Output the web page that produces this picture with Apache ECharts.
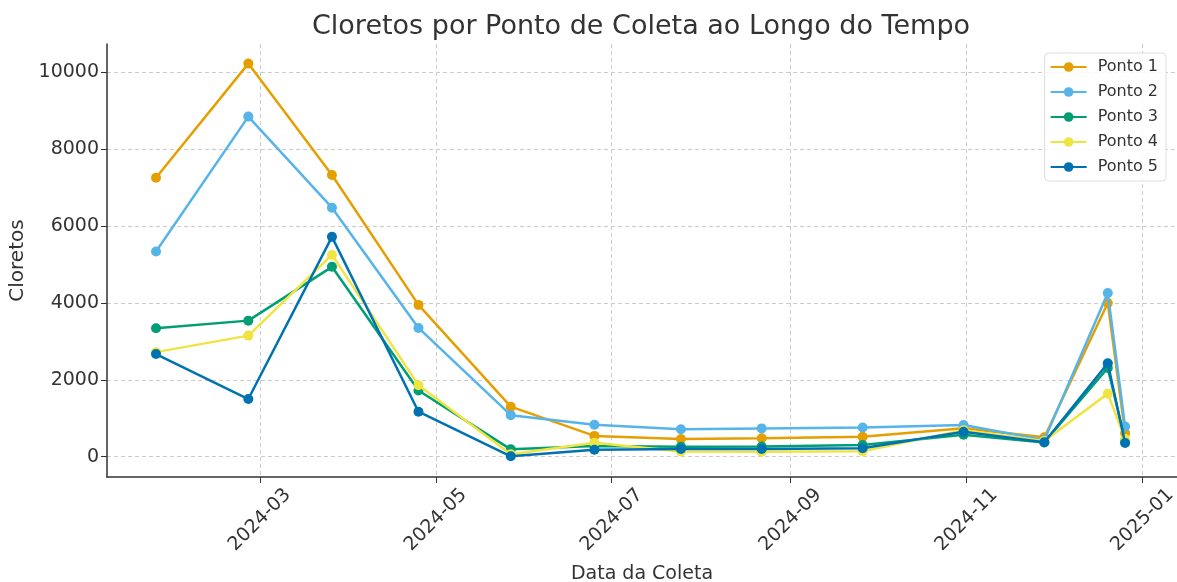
<!DOCTYPE html>
<html>
<head>
<meta charset="utf-8">
<script src="https://cdn.jsdelivr.net/npm/echarts@6/dist/echarts.min.js"></script>
<style>
  html, body { margin: 0; padding: 0; background: #fff; }
  #chart { width: 1177px; height: 582px; }
</style>
</head>
<body>
<div id="chart"></div>
<script>
// collection dates
const datas = [
  "2024-01-25", "2024-02-26", "2024-03-26", "2024-04-25", "2024-05-27",
  "2024-06-25", "2024-07-25", "2024-08-22", "2024-09-26", "2024-10-31",
  "2024-11-28", "2024-12-20", "2024-12-26"
];

const ponto1 = [7260, 10230, 7330, 3950, 1300, 540, 460, 480, 515, 740, 505, 4000, 610];
const ponto2 = [5340, 8850, 6480, 3350, 1080, 830, 715, 735, 757, 825, 435, 4260, 785];
const ponto3 = [3340, 3540, 4940, 1720, 190, 280, 260, 265, 300, 570, 370, 2310, 420];
const ponto4 = [2720, 3150, 5250, 1860, 60, 360, 135, 130, 140, 690, 410, 1640, 460];
const ponto5 = [2670, 1500, 5720, 1170, 10, 180, 200, 200, 220, 650, 375, 2430, 355];

const xTicks = ["2024-03-01", "2024-05-01", "2024-07-01", "2024-09-01", "2024-11-01", "2025-01-01"];
const yTicks = [0, 2000, 4000, 6000, 8000, 10000];

const nomes = ["Ponto 1", "Ponto 2", "Ponto 3", "Ponto 4", "Ponto 5"];
const valores = [ponto1, ponto2, ponto3, ponto4, ponto5];
const cores = ["#E69F00", "#56B4E9", "#009E73", "#F0E442", "#0072B2"];

const ts = d => Date.UTC(+d.slice(0, 4), +d.slice(5, 7) - 1, +d.slice(8, 10));
const fonte = "DejaVu Sans";

let myChart = echarts.init(document.getElementById("chart"));
let option = {
  backgroundColor: "#fff",
  animation: false,
  color: cores,
  textStyle: { fontFamily: fonte },
  title: {
    text: "Cloretos por Ponto de Coleta ao Longo do Tempo",
    left: 307,
    top: 8,
    textStyle: { fontFamily: fonte, fontSize: 27, fontWeight: "normal", color: "#333" }
  },
  legend: {
    orient: "vertical",
    right: 11,
    top: 53,
    itemWidth: 36,
    itemHeight: 12,
    itemGap: 9,
    padding: [6, 8, 6, 5],
    borderColor: "#ddd",
    borderWidth: 1,
    borderRadius: 4,
    backgroundColor: "rgba(255,255,255,0.85)",
    textStyle: { fontFamily: fonte, fontSize: 16, color: "#333", padding: [0, 0, 0, 6] },
    data: nomes
  },
  grid: { left: 107, right: 0, top: 44, bottom: 105, outerBoundsMode: "none", containLabel: false },
  xAxis: {
    type: "value",
    min: ts("2024-01-08"),
    max: ts("2025-01-13"),
    name: "Data da Coleta",
    nameLocation: "middle",
    nameGap: 88,
    nameTextStyle: { fontFamily: fonte, fontSize: 19, color: "#333" },
    axisLine: { onZero: false, lineStyle: { color: "#333", width: 1.5 } },
    axisTick: { show: true, length: 6, lineStyle: { color: "#333" }, customValues: xTicks.map(ts) },
    axisLabel: {
      customValues: xTicks.map(ts),
      rotate: 45,
      align: "center",
      verticalAlign: "middle",
      margin: 43,
      fontFamily: fonte,
      fontSize: 19,
      color: "#333",
      formatter: v => {
        const d = new Date(v);
        return d.getUTCFullYear() + "-" + String(d.getUTCMonth() + 1).padStart(2, "0");
      }
    },
    splitLine: { show: true, lineStyle: { color: "#ccc", type: [4, 3] } }
  },
  yAxis: {
    type: "value",
    min: -530,
    max: 10740,
    name: "Cloretos",
    nameLocation: "middle",
    nameGap: 79,
    nameTextStyle: { fontFamily: fonte, fontSize: 20, color: "#333" },
    axisLine: { show: true, lineStyle: { color: "#333", width: 1.5 } },
    axisTick: { show: true, length: 6, lineStyle: { color: "#333" }, customValues: yTicks },
    axisLabel: {
      customValues: yTicks,
      fontFamily: fonte,
      fontSize: 19,
      color: "#333",
      margin: 8,
      formatter: v => String(v)
    },
    splitLine: { show: true, lineStyle: { color: "#ccc", type: [4, 3] } }
  },
  series: nomes.map((nome, i) => ({
    name: nome,
    type: "line",
    data: datas.map((d, j) => [ts(d), valores[i][j]]),
    symbol: "circle",
    symbolSize: 10,
    lineStyle: { width: 2.5 },
    itemStyle: { color: cores[i] },
    z: 2 + i
  }))
};
myChart.setOption(option);
</script>
</body>
</html>
